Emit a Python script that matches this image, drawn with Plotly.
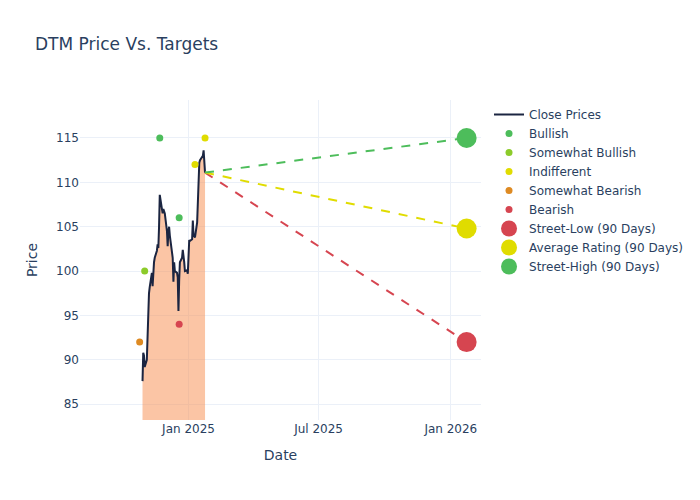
import pandas as pd
import plotly.graph_objects as go

ticker = "DTM"

close_dates = [
    "2024-10-29", "2024-10-30", "2024-10-31", "2024-11-01", "2024-11-04", "2024-11-05",
    "2024-11-06", "2024-11-07", "2024-11-08", "2024-11-11", "2024-11-12", "2024-11-13",
    "2024-11-14", "2024-11-15", "2024-11-18", "2024-11-19", "2024-11-20", "2024-11-21",
    "2024-11-22", "2024-11-25", "2024-11-26", "2024-11-27", "2024-11-29", "2024-12-02",
    "2024-12-03", "2024-12-04", "2024-12-05", "2024-12-06", "2024-12-09", "2024-12-10",
    "2024-12-11", "2024-12-12", "2024-12-13", "2024-12-16", "2024-12-17", "2024-12-18",
    "2024-12-19", "2024-12-20", "2024-12-23", "2024-12-24", "2024-12-26", "2024-12-27",
    "2024-12-30", "2024-12-31", "2025-01-02", "2025-01-03", "2025-01-06", "2025-01-07",
    "2025-01-08", "2025-01-10", "2025-01-13", "2025-01-14", "2025-01-15", "2025-01-16",
    "2025-01-17", "2025-01-21", "2025-01-22", "2025-01-23", "2025-01-24",
]
close_prices = [
    87.6, 90.8, 90.5, 89.2, 90.0, 93.5,
    96.5, 97.5, 98.2, 99.8, 98.3, 100.5,
    101.0, 101.5, 102.3, 103.0, 102.6, 105.0,
    108.6, 107.0, 106.5, 107.0, 106.5, 104.5,
    102.8, 104.5, 105.0, 104.0, 102.0, 101.5,
    98.8, 101.0, 100.0, 99.8, 99.3, 95.5,
    99.0, 101.0, 101.5, 102.4, 101.0, 100.0,
    100.1, 99.7, 103.5, 103.4, 103.6, 105.7,
    104.0, 103.8, 105.5, 108.5, 111.0, 112.2,
    112.5, 113.0, 113.6, 111.3, 111.1,
]

rating_categories = ["Bullish", "Somewhat Bullish", "Indifferent", "Somewhat Bearish", "Bearish"]
rating_colors = ["#4DBD5B", "#8CCB2A", "#E0DC00", "#DE8A22", "#D64550"]
rating_dates = ["2024-11-22", "2024-12-19", "2024-11-01", "2025-01-10", "2025-01-24", "2024-10-25", "2024-12-19"]
rating_values = [115, 106, 100, 112, 115, 92, 94]
rating_labels = ["Bullish", "Bullish", "Somewhat Bullish", "Indifferent", "Indifferent", "Somewhat Bearish", "Bearish"]

target_date = "2026-01-23"
target_names = ["Street-Low (90 Days)", "Average Rating (90 Days)", "Street-High (90 Days)"]
target_values = [92.0, 104.8, 115.0]
target_colors = ["#D64550", "#E0DC00", "#4DBD5B"]

fig = go.Figure()

dates = pd.to_datetime(close_dates)
fig.add_trace(go.Scatter(
    x=dates, y=close_prices, mode="lines", showlegend=False, hoverinfo="skip",
    line=dict(width=0), fill="tozeroy", fillcolor="rgba(247,140,75,0.5)",
))
fig.add_trace(go.Scatter(
    x=dates, y=close_prices, mode="lines", name="Close Prices",
    line=dict(color="#1B2541", width=2),
))

for cat, col in zip(rating_categories, rating_colors):
    xs = [d for d, l in zip(rating_dates, rating_labels) if l == cat]
    ys = [v for v, l in zip(rating_values, rating_labels) if l == cat]
    fig.add_trace(go.Scatter(
        x=pd.to_datetime(xs), y=ys, mode="markers", name=cat,
        marker=dict(color=col, size=7),
    ))

last_date = dates[-1]
last_close = close_prices[-1]
for name, val, col in zip(target_names, target_values, target_colors):
    fig.add_trace(go.Scatter(
        x=[last_date, pd.to_datetime(target_date)], y=[last_close, val], mode="lines",
        line=dict(color=col, width=2, dash="dash"), showlegend=False, hoverinfo="skip",
    ))

for name, val, col in zip(target_names, target_values, target_colors):
    fig.add_trace(go.Scatter(
        x=[pd.to_datetime(target_date)], y=[val], mode="markers", name=name,
        marker=dict(color=col, size=20),
    ))

ymin = min(close_prices) * 0.95
ymax = max(close_prices) * 1.05

fig.update_layout(
    title=dict(text=f"{ticker} Price Vs. Targets"),
    xaxis=dict(title="Date", range=["2024-08-03", "2026-02-12"],
               dtick="M6", tick0="2025-01-01", tickformat="%b %Y"),
    yaxis=dict(title="Price", range=[ymin, ymax]),
    width=700, height=500,
    template="plotly_white",
    font=dict(family="DejaVu Sans"),
)

fig.write_html("out.html", config={"displayModeBar": False},
               post_script="document.body.style.margin='0';")
